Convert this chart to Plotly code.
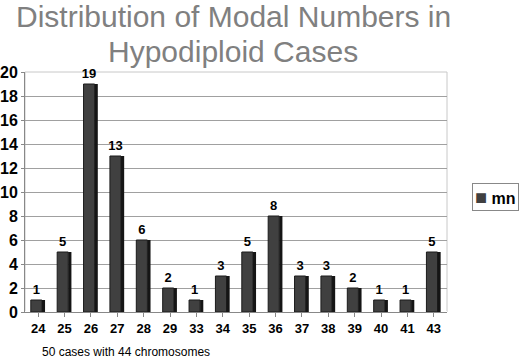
import plotly.graph_objects as go

categories = ["24", "25", "26", "27", "28", "29", "33", "34", "35", "36", "37", "38", "39", "40", "41", "43"]
counts = [1, 5, 19, 13, 6, 2, 1, 3, 5, 8, 3, 3, 2, 1, 1, 5]
y_ticks = [0, 2, 4, 6, 8, 10, 12, 14, 16, 18, 20]

L, R, T, B = 25, 447, 72, 312
W, H = 520, 361
PW, PH = R - L, B - T


def px_x(x):
    return (x - L) / PW


def px_y(y):
    return (B - y) / PH


fig = go.Figure()
# side face of the 3D-looking bars
fig.add_trace(go.Bar(
    x=categories, y=counts, name="side", showlegend=False,
    marker=dict(color="#151515", line=dict(width=0)),
    width=0.12, offset=0.14, hoverinfo="skip",
))
fig.add_trace(go.Bar(
    x=categories, y=counts, name="mn", showlegend=False,
    marker=dict(color="#404040", line=dict(color="#1a1a1a", width=1)),
    width=0.42, offset=-0.28,
    text=[str(v) for v in counts], textposition="outside",
    constraintext="none",
    textfont=dict(family="Arial", size=13, color="black", weight="bold"),
    cliponaxis=False,
))

fig.update_layout(
    width=W, height=H,
    margin=dict(l=L, r=W - R, t=T, b=H - B, autoexpand=False),
    paper_bgcolor="white", plot_bgcolor="white",
    showlegend=False,
    barmode="overlay",
    xaxis=dict(type="category", showline=True, linecolor="#888888", linewidth=1,
               ticks="outside", ticklen=4, tickcolor="#888888", automargin=False,
               tickfont=dict(family="Arial", size=13, color="black", weight="bold"),
               showgrid=False),
    yaxis=dict(range=[0, 20], tickvals=y_ticks, showline=True, linecolor="#888888",
               linewidth=1, ticks="outside", ticklen=3, tickcolor="#888888",
               gridcolor="#a0a0a0", gridwidth=1, automargin=False,
               tickfont=dict(family="Arial", size=16, color="black", weight="bold")),
    annotations=[
        dict(text="Distribution of Modal Numbers in",
             xref="paper", yref="paper", x=px_x(233), y=px_y(17),
             xanchor="center", yanchor="middle", showarrow=False,
             font=dict(family="Arial", size=30, color="#808080")),
        dict(text="Hypodiploid Cases",
             xref="paper", yref="paper", x=px_x(233), y=px_y(51),
             xanchor="center", yanchor="middle", showarrow=False,
             font=dict(family="Arial", size=30, color="#808080")),
        dict(text="50 cases with 44 chromosomes", xref="paper", yref="paper",
             x=px_x(40), y=px_y(352), xanchor="left", yanchor="middle",
             showarrow=False, font=dict(family="Arial", size=12, color="black")),
        dict(text="<span style='color:#404040;font-size:20px'>■</span> <b>mn</b>",
             xref="paper", yref="paper",
             x=px_x(472), y=px_y(197), xanchor="left", yanchor="middle",
             showarrow=False, bordercolor="#888888", borderwidth=1, borderpad=2,
             bgcolor="white", font=dict(family="Arial", size=16, color="black")),
    ],
    shapes=[dict(type="rect", xref="paper", yref="paper", x0=0, y0=0, x1=1, y1=1,
                 line=dict(color="#c8c8c8", width=1), layer="below")],
)

fig.write_html("out.html", config={"displayModeBar": False},
               post_script="document.body.style.margin='0px';")
